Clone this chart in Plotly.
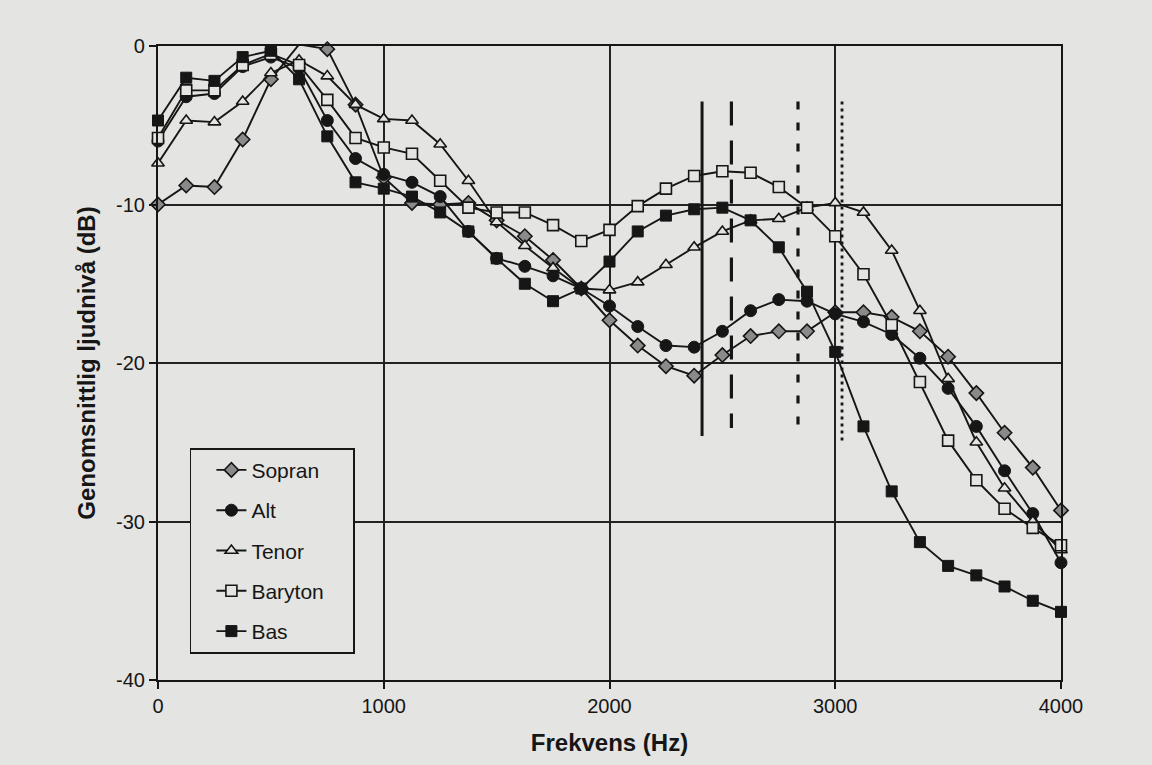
import plotly.graph_objects as go

# Frequency axis (Hz) - points every 125 Hz
freq_hz = [0, 125, 250, 375, 500, 625, 750, 875, 1000, 1125, 1250, 1375, 1500, 1625,
           1750, 1875, 2000, 2125, 2250, 2375, 2500, 2625, 2750, 2875, 3000, 3125,
           3250, 3375, 3500, 3625, 3750, 3875, 4000]

# Average sound level (dB) per voice group
sopran = [-10.0, -8.8, -8.9, -5.9, -2.1, 0.1, -0.2, -3.7, -8.3, -9.9, -10.0, -9.9, -11.0,
          -12.0, -13.5, -15.3, -17.3, -18.9, -20.2, -20.8, -19.5, -18.3, -18.0, -18.0,
          -16.8, -16.8, -17.1, -18.0, -19.6, -21.9, -24.4, -26.6, -29.3]
alt = [-6.0, -3.2, -3.0, -1.3, -0.7, -1.4, -4.7, -7.1, -8.1, -8.6, -9.5, -11.7, -13.4,
       -13.9, -14.5, -15.3, -16.4, -17.7, -18.9, -19.0, -18.0, -16.7, -16.0, -16.1,
       -16.9, -17.4, -18.2, -19.7, -21.6, -24.0, -26.8, -29.5, -32.6]
tenor = [-7.4, -4.7, -4.8, -3.5, -1.7, -0.9, -1.9, -3.7, -4.6, -4.7, -6.2, -8.5, -11.1,
         -12.6, -14.0, -15.3, -15.4, -14.9, -13.8, -12.7, -11.7, -11.0, -10.9, -10.2,
         -9.9, -10.5, -12.9, -16.7, -21.0, -25.0, -27.9, -30.0, -31.8]
baryton = [-5.8, -2.8, -2.8, -1.2, -0.5, -1.2, -3.4, -5.8, -6.4, -6.8, -8.5, -10.2, -10.5,
           -10.5, -11.3, -12.3, -11.6, -10.1, -9.0, -8.2, -7.9, -8.0, -8.9, -10.2,
           -12.0, -14.4, -17.6, -21.2, -24.9, -27.4, -29.2, -30.4, -31.5]
bas = [-4.7, -2.0, -2.2, -0.7, -0.3, -2.1, -5.7, -8.6, -9.0, -9.5, -10.5, -11.7, -13.4,
       -15.0, -16.1, -15.3, -13.6, -11.7, -10.7, -10.3, -10.2, -11.0, -12.7, -15.5,
       -19.3, -24.0, -28.1, -31.3, -32.8, -33.4, -34.1, -35.0, -35.7]

series_names = ["Sopran", "Alt", "Tenor", "Baryton", "Bas"]

# Vertical reference lines (Hz) with their top/bottom levels (dB)
vline_hz = [2410, 2540, 2835, 3030]
vline_top_db = [-3.5, -3.5, -3.5, -3.5]
vline_bottom_db = [-24.6, -24.1, -24.3, -25.0]

x_ticks = [0, 1000, 2000, 3000, 4000]
y_ticks = [0, -10, -20, -30, -40]

INK = "#161616"
PAPER = "#e4e4e2"
FONT = "Liberation Sans, Arial, sans-serif"
PAD = "\u00a0" * 4  # widens the legend box to match the original

marker_styles = {
    "Sopran": dict(symbol="diamond", size=11, color="#8a8a8a", line=dict(color=INK, width=1.6)),
    "Alt": dict(symbol="circle", size=12, color=INK, line=dict(color=INK, width=1)),
    "Tenor": dict(symbol="triangle-up", size=11, color=PAPER, line=dict(color=INK, width=1.6)),
    "Baryton": dict(symbol="square", size=11, color=PAPER, line=dict(color=INK, width=1.6)),
    "Bas": dict(symbol="square", size=11, color=INK, line=dict(color=INK, width=1)),
}

fig = go.Figure()

dash_styles = ["solid", "24px,15px", "8px,13px", "3px,4px"]
dash_widths = [3, 3.2, 3.2, 2.8]
for hz, top, bot, dsh, w in zip(vline_hz, vline_top_db, vline_bottom_db, dash_styles, dash_widths):
    fig.add_trace(go.Scatter(
        x=[hz, hz], y=[top, bot], mode="lines",
        line=dict(color=INK, width=w, dash=dsh),
        showlegend=False, hoverinfo="skip"))

for name, vals in zip(series_names, [sopran, alt, tenor, baryton, bas]):
    fig.add_trace(go.Scatter(
        x=freq_hz, y=vals, name=name + PAD, mode="lines+markers",
        line=dict(color=INK, width=1.9),
        marker=marker_styles[name],
        legendgroup=name,
        cliponaxis=False))

axis_common = dict(
    showline=True, linecolor=INK, linewidth=2.2, mirror=True,
    showgrid=True, gridcolor="#222222", gridwidth=1.9,
    zeroline=False, ticks="outside", ticklen=7, tickcolor=INK, tickwidth=1.8,
    tickfont=dict(family=FONT, size=20, color=INK),
)

fig.update_xaxes(range=[0, 4000], tickvals=x_ticks, ticktext=[str(v) for v in x_ticks],
                 title=dict(text="<b>Frekvens (Hz)</b>", font=dict(family=FONT, size=24, color=INK),
                            standoff=18),
                 **axis_common)
fig.update_yaxes(range=[-40, 0], tickvals=y_ticks, ticktext=[str(v) for v in y_ticks],
                 title=dict(text="<b>Genomsnittlig ljudnivå (dB)</b>",
                            font=dict(family=FONT, size=24, color=INK), standoff=14),
                 **axis_common)

fig.update_layout(
    width=1152, height=765,
    margin=dict(l=158, r=91, t=46, b=85),
    paper_bgcolor=PAPER, plot_bgcolor=PAPER,
    font=dict(family=FONT, color=INK),
    legend=dict(
        x=0.035, y=0.366, xanchor="left", yanchor="top",
        bgcolor=PAPER, bordercolor=INK, borderwidth=1.8,
        font=dict(family=FONT, size=21, color=INK),
        traceorder="grouped", tracegroupgap=10,
        itemwidth=30, indentation=20,
    ),
    showlegend=True,
)

fig.write_html("out.html", config={"displayModeBar": False},
               post_script="document.body.style.margin='0';document.body.style.background='%s';" % PAPER)
